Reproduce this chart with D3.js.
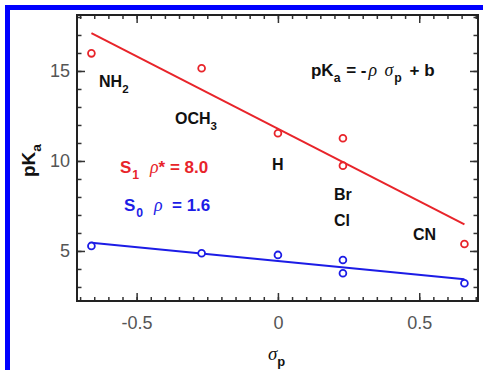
<!DOCTYPE html>
<html>
<head>
<meta charset="utf-8">
<script src="https://cdn.jsdelivr.net/npm/d3@7"></script>
<style>
  html, body { margin: 0; padding: 0; background: #fff; }
  svg { display: block; }
  text { white-space: pre; }
</style>
</head>
<body>
<svg width="483" height="370"></svg>
<script>
// substituent data (Hammett sigma_p vs pKa)
const substituents = ["NH2", "OCH3", "H", "Br", "Cl", "CN"];
const sigmaP = [-0.66, -0.27, 0, 0.23, 0.23, 0.66];
const pKaS1 = [15.98, 15.15, 11.54, 11.26, 9.74, 5.39];
const pKaS0 = [5.28, 4.87, 4.78, 4.50, 3.76, 3.21];

// fitted lines, endpoints
const fitS1 = [[-0.66, 17.1], [0.66, 6.48]];
const fitS0 = [[-0.66, 5.46], [0.66, 3.43]];

const xTicks = [-0.5, 0, 0.5];
const yTicks = [5, 10, 15];
const xMinor = d3.range(-14, 15).map(i => i * 0.05);
const yMinor = d3.range(3, 19);

const RED = "#e8242a";
const BLUE = "#1c1ce6";
const SANS = "'Liberation Sans', Arial, sans-serif";
const SERIF = "'Liberation Serif', 'Times New Roman', serif";

const svg = d3.select("svg");

// blue frame (top + left)
svg.append("rect").attr("x", 5).attr("y", 5).attr("width", 478).attr("height", 5).attr("fill", "#0000ff");
svg.append("rect").attr("x", 5).attr("y", 5).attr("width", 5).attr("height", 365).attr("fill", "#0000ff");

const x = d3.scaleLinear([-0.711, 0.708], [77, 478]);
const y = d3.scaleLinear([2.22, 18.11], [301, 15]);

function styleAxis(g) {
  g.select(".domain").remove();
  g.selectAll(".tick line").attr("stroke", "#333").attr("stroke-width", 1.5);
  g.selectAll(".tick text").attr("fill", "#555").attr("font-family", SANS).attr("font-size", 18);
}

const noLabel = () => "";
const plain = d => String(d);

// bottom
svg.append("g").attr("transform", `translate(0,${y.range()[0]})`)
  .call(d3.axisBottom(x).tickValues(xMinor).tickSize(-4).tickFormat(noLabel)).call(styleAxis);
svg.append("g").attr("transform", `translate(0,${y.range()[0]})`)
  .call(d3.axisBottom(x).tickValues(xTicks).tickSize(-8).tickPadding(15).tickFormat(plain))
  .call(styleAxis);
// top
svg.append("g").attr("transform", `translate(0,${y.range()[1]})`)
  .call(d3.axisTop(x).tickValues(xMinor).tickSize(-4).tickFormat(noLabel)).call(styleAxis);
svg.append("g").attr("transform", `translate(0,${y.range()[1]})`)
  .call(d3.axisTop(x).tickValues(xTicks).tickSize(-8).tickFormat(noLabel)).call(styleAxis);
// left
svg.append("g").attr("transform", `translate(${x.range()[0]},0)`)
  .call(d3.axisLeft(y).tickValues(yMinor).tickSize(-4.5).tickFormat(noLabel)).call(styleAxis);
svg.append("g").attr("transform", `translate(${x.range()[0]},0)`)
  .call(d3.axisLeft(y).tickValues(yTicks).tickSize(-8).tickPadding(7).tickFormat(plain)).call(styleAxis);
// right
svg.append("g").attr("transform", `translate(${x.range()[1]},0)`)
  .call(d3.axisRight(y).tickValues(yMinor).tickSize(-4.5).tickFormat(noLabel)).call(styleAxis);
svg.append("g").attr("transform", `translate(${x.range()[1]},0)`)
  .call(d3.axisRight(y).tickValues(yTicks).tickSize(-8).tickFormat(noLabel)).call(styleAxis);

// plot frame
svg.append("rect")
  .attr("x", x.range()[0]).attr("y", y.range()[1])
  .attr("width", x.range()[1] - x.range()[0])
  .attr("height", y.range()[0] - y.range()[1])
  .attr("fill", "none").attr("stroke", "#222").attr("stroke-width", 2);

// fit lines
const line = d3.line().x(d => x(d[0])).y(d => y(d[1]));
svg.append("path").datum(fitS1).attr("d", line).attr("stroke", RED).attr("stroke-width", 2).attr("fill", "none");
svg.append("path").datum(fitS0).attr("d", line).attr("stroke", BLUE).attr("stroke-width", 2).attr("fill", "none");

// markers
function markers(vals, color) {
  svg.append("g").selectAll("circle")
    .data(vals)
    .join("circle")
      .attr("cx", (d, i) => x(sigmaP[i]))
      .attr("cy", d => y(d))
      .attr("r", 3.4)
      .attr("fill", "#fff")
      .attr("stroke", color)
      .attr("stroke-width", 1.8);
}
markers(pKaS1, RED);
markers(pKaS0, BLUE);

// rich text helper: parts = [{t, sub, greek, dx}]
function rich(g, px, py, parts, size, color) {
  const t = g.append("text")
    .attr("x", px).attr("y", py)
    .attr("font-family", SANS).attr("font-weight", "bold")
    .attr("font-size", size).attr("fill", color);
  let shift = 0;
  parts.forEach(p => {
    const s = t.append("tspan").text(p.t);
    const off = p.sub ? 6 : 0;
    if (off - shift) s.attr("dy", off - shift);
    shift = off;
    if (p.sub) s.attr("font-size", size * 0.72);
    if (p.greek) s.attr("font-family", SERIF).attr("font-style", "italic").attr("font-weight", "normal").attr("font-size", size * 1.05);
    if (p.dx) s.attr("dx", p.dx);
  });
  return t;
}

// substituent labels
const labelPos = {
  NH2: [-0.633, 14.11], OCH3: [-0.364, 12.06], H: [-0.021, 9.5],
  Br: [0.198, 7.83], Cl: [0.198, 6.39], CN: [0.478, 5.61]
};
substituents.forEach(s => {
  const m = s.match(/^([A-Za-z]+?)(\d?)$/);
  const parts = [{t: m[1]}];
  if (m[2]) parts.push({t: m[2], sub: true});
  rich(svg, x(labelPos[s][0]), y(labelPos[s][1]), parts, 16, "#111");
});

// equation
rich(svg, x(0.117), y(14.72), [
  {t: "pK"}, {t: "a", sub: true}, {t: " = -", dx: 1}, {t: "ρ", greek: true, dx: 2},
  {t: " σ", greek: true, dx: 3}, {t: "p", sub: true, dx: 1}, {t: " + b", dx: 3}
], 17, "#111");

// rho legends
rich(svg, x(-0.559), y(9.33), [
  {t: "S"}, {t: "1", sub: true, dx: 1}, {t: "  ρ", greek: true, dx: 2}, {t: "* = 8.0"}
], 17, RED);
rich(svg, x(-0.545), y(7.22), [
  {t: "S"}, {t: "0", sub: true, dx: 1}, {t: "  ρ", greek: true, dx: 2}, {t: "  = 1.6"}
], 17, BLUE);

// axis titles
rich(svg, 268, 360, [{t: "σ", greek: true}, {t: "p", sub: true}], 18, "#111");
rich(svg.append("g").attr("transform", "translate(35,177) rotate(-90)"), 0, 0,
  [{t: "pK"}, {t: "a", sub: true}], 19, "#111");
</script>
</body>
</html>
